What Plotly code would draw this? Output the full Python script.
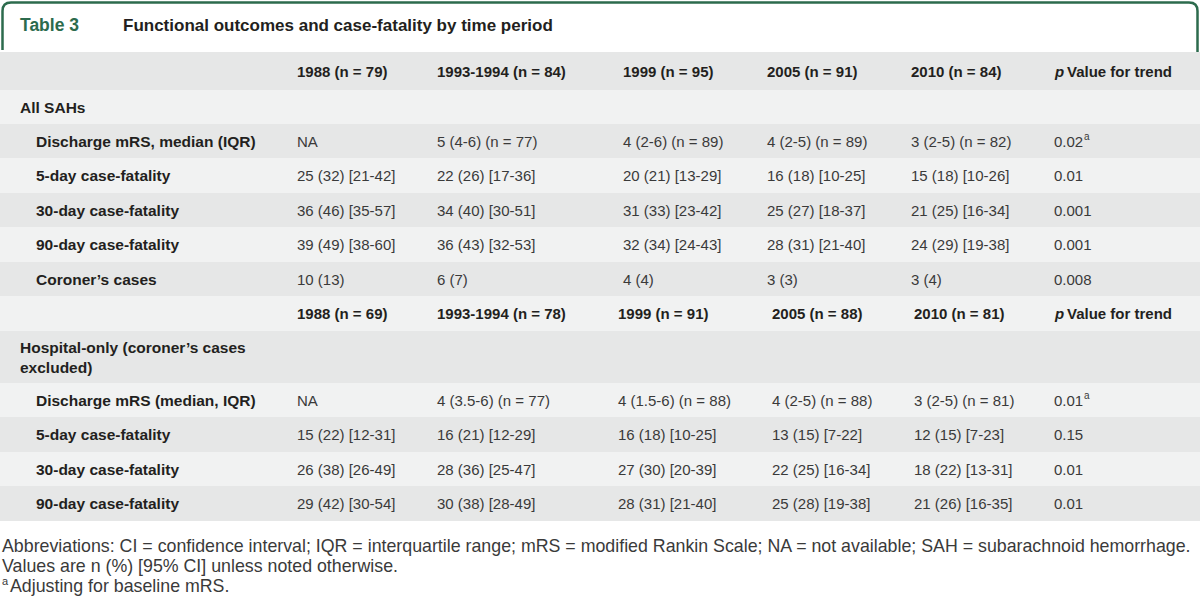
import plotly.graph_objects as go

# ---------------- data ----------------
title_tag = "Table 3"
title_text = "Functional outcomes and case-fatality by time period"

header1 = ["1988 (n = 79)", "1993-1994 (n = 84)", "1999 (n = 95)", "2005 (n = 91)", "2010 (n = 84)"]
pval_header = ["p", "Value for trend"]
section1 = "All SAHs"
labels1 = ["Discharge mRS, median (IQR)", "5-day case-fatality", "30-day case-fatality", "90-day case-fatality", "Coroner\u2019s cases"]
col1988_a = ["NA", "25 (32) [21-42]", "36 (46) [35-57]", "39 (49) [38-60]", "10 (13)"]
col1993_a = ["5 (4-6) (n = 77)", "22 (26) [17-36]", "34 (40) [30-51]", "36 (43) [32-53]", "6 (7)"]
col1999_a = ["4 (2-6) (n = 89)", "20 (21) [13-29]", "31 (33) [23-42]", "32 (34) [24-43]", "4 (4)"]
col2005_a = ["4 (2-5) (n = 89)", "16 (18) [10-25]", "25 (27) [18-37]", "28 (31) [21-40]", "3 (3)"]
col2010_a = ["3 (2-5) (n = 82)", "15 (18) [10-26]", "21 (25) [16-34]", "24 (29) [19-38]", "3 (4)"]
pval_a = ["0.02", "0.01", "0.001", "0.001", "0.008"]
pval_a_note = ["a", "", "", "", ""]

header2 = ["1988 (n = 69)", "1993-1994 (n = 78)", "1999 (n = 91)", "2005 (n = 88)", "2010 (n = 81)"]
section2 = "Hospital-only (coroner\u2019s cases<br>excluded)"
labels2 = ["Discharge mRS (median, IQR)", "5-day case-fatality", "30-day case-fatality", "90-day case-fatality"]
col1988_b = ["NA", "15 (22) [12-31]", "26 (38) [26-49]", "29 (42) [30-54]"]
col1993_b = ["4 (3.5-6) (n = 77)", "16 (21) [12-29]", "28 (36) [25-47]", "30 (38) [28-49]"]
col1999_b = ["4 (1.5-6) (n = 88)", "16 (18) [10-25]", "27 (30) [20-39]", "28 (31) [21-40]"]
col2005_b = ["4 (2-5) (n = 88)", "13 (15) [7-22]", "22 (25) [16-34]", "25 (28) [19-38]"]
col2010_b = ["3 (2-5) (n = 81)", "12 (15) [7-23]", "18 (22) [13-31]", "21 (26) [16-35]"]
pval_b = ["0.01", "0.15", "0.01", "0.01"]
pval_b_note = ["a", "", "", ""]

footnotes = [
    "Abbreviations: CI = confidence interval; IQR = interquartile range; mRS = modified Rankin Scale; NA = not available; SAH = subarachnoid hemorrhage.",
    "Values are n (%) [95% CI] unless noted otherwise.",
    "Adjusting for baseline mRS.",
]
footnote_marks = ["", "", "a"]

# ---------------- layout / style ----------------
W, H = 1200, 602
GREEN = "#2c6b4d"
DARK = "#e6e7e7"
LIGHT = "#f1f2f2"
TXT = "#231f20"
DATA_TXT = "#3a3a3a"
FONT = "Liberation Sans, Arial, sans-serif"

colx_a = [297, 437, 623, 767, 911, 1054]
colx_b = [297, 437, 618, 772, 914, 1054]

# row bands: (top, bottom, color)
bands = [
    (52, 90, DARK),     # header 1
    (90, 124, LIGHT),   # All SAHs
    (124, 158, DARK),
    (158, 193, LIGHT),
    (193, 227, DARK),
    (227, 262, LIGHT),
    (262, 296, DARK),   # coroner
    (296, 331, LIGHT),  # header 2
    (331, 383, DARK),   # hospital-only
    (383, 417, LIGHT),
    (417, 452, DARK),
    (452, 486, LIGHT),
    (486, 521, DARK),
]

fig = go.Figure()
shapes = []
for (t, b, c) in bands:
    shapes.append(dict(type="rect", x0=0, x1=W, y0=t, y1=b, fillcolor=c, line=dict(width=0), layer="below"))

# green border of title box
shapes.append(dict(type="path",
                   path="M 2.5,50 L 2.5,11 Q 2.5,2.5 11,2.5 L 1189,2.5 Q 1197.5,2.5 1197.5,11 L 1197.5,52",
                   line=dict(color=GREEN, width=2.5), layer="above"))

ann = []

def text(x, y, s, size=15, color=TXT, bold=False, italic=False, yshift=0):
    f = dict(family=FONT, size=size, color=color)
    if bold:
        f["weight"] = "bold"
    if italic:
        f["style"] = "italic"
    ann.append(dict(x=x, y=y, xref="x", yref="y", text=s, showarrow=False,
                    xanchor="left", yanchor="middle", align="left", font=f,
                    xshift=-2, yshift=yshift))

def cy(i):
    t, b, _ = bands[i]
    return (t + b) / 2

DIGIT_W = 15 * 0.556
def str_w(s, size=15):
    # approx width of numeric strings in Liberation Sans
    return sum((0.278 if ch == "." else 0.556) * size for ch in s)

# title
text(20, 25, title_tag, size=17.5, color=GREEN, bold=True)
text(123, 25, title_text, size=17, color=TXT, bold=True)

LBL = 15.5

def header_row(i, xs, hdr):
    for x, h in zip(xs, hdr):
        text(x, cy(i), h, bold=True)
    text(xs[5], cy(i), pval_header[0], bold=True, italic=True)
    text(xs[5] + 13, cy(i), pval_header[1], bold=True)

def body(start, xs, labels, cols, pv, notes):
    for r, lab in enumerate(labels):
        y = cy(start + r)
        text(36, y, lab, size=LBL, bold=True)
        for x, col in zip(xs[:5], cols):
            text(x, y, col[r], color=DATA_TXT)
        text(xs[5], y, pv[r], color=DATA_TXT)
        if notes[r]:
            text(xs[5] + str_w(pv[r]) + 1, y, notes[r], size=10, color=DATA_TXT, yshift=5)

header_row(0, colx_a, header1)
text(20, cy(1), section1, size=LBL, bold=True)
body(2, colx_a, labels1, [col1988_a, col1993_a, col1999_a, col2005_a, col2010_a], pval_a, pval_a_note)

header_row(7, colx_b, header2)
text(20, cy(8), section2, size=LBL, bold=True)
body(9, colx_b, labels2, [col1988_b, col1993_b, col1999_b, col2005_b, col2010_b], pval_b, pval_b_note)

# footnotes
for i, (fn, mk) in enumerate(zip(footnotes, footnote_marks)):
    if mk:
        text(2, 546 + 20 * i, mk, size=11, color=DATA_TXT, yshift=5)
        text(10, 546 + 20 * i, fn, size=17.8, color=DATA_TXT)
    else:
        text(2, 546 + 20 * i, fn, size=17.8, color=DATA_TXT)

fig.update_layout(
    width=W, height=H,
    margin=dict(l=0, r=0, t=0, b=0),
    paper_bgcolor="white", plot_bgcolor="white",
    xaxis=dict(range=[0, W], visible=False, fixedrange=True),
    yaxis=dict(range=[H, 0], visible=False, fixedrange=True),
    shapes=shapes, annotations=ann, showlegend=False,
)
fig.write_html("out.html", config={"displayModeBar": False},
               post_script="document.body.style.margin='0';document.body.style.overflow='hidden';")
